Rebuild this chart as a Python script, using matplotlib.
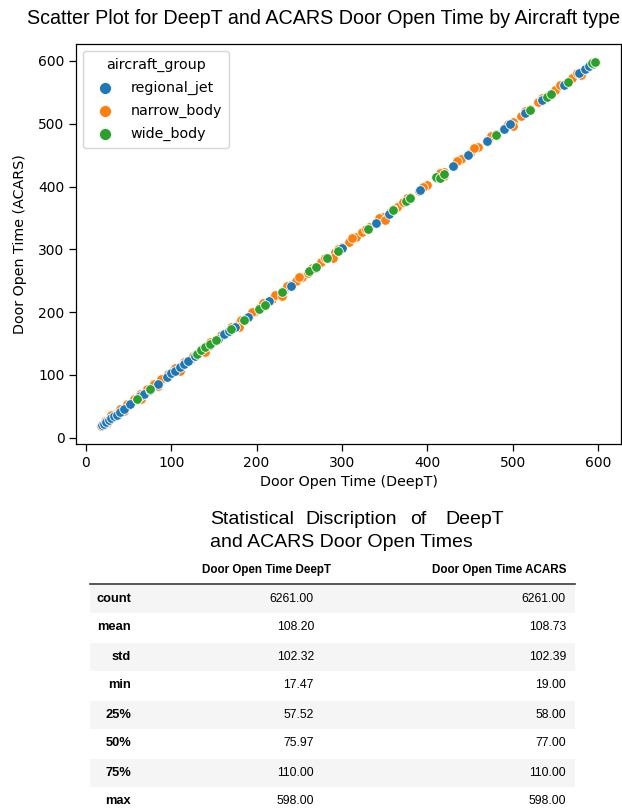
import matplotlib.pyplot as plt
from matplotlib.patches import Rectangle

plt.rcParams['font.family'] = ['DejaVu Sans']

# door open times (DeepT on x, ACARS on y)
regional_x = [18.5, 21, 24, 27, 30, 33, 36, 40, 45, 52, 60, 64, 68, 75, 85, 95, 100, 104, 110, 115,
              120, 128, 145, 155, 162, 168, 175, 190, 215, 240, 268, 300, 340, 355, 392, 430, 448, 470,
              490, 497, 515, 535, 560, 578, 585, 590, 594, 597]
regional_y = [20, 22, 25, 29, 31, 34, 37, 41, 46, 53, 61, 66, 69, 76, 86, 96, 103, 107, 112, 117,
              122, 130, 147, 157, 165, 170, 177, 192, 217, 242, 270, 302, 342, 357, 394, 432, 450, 472,
              492, 499, 517, 537, 562, 580, 587, 592, 595, 598]

narrow_x = [17.47, 20, 23, 26, 29, 32, 35, 38, 42, 46, 50, 54, 58, 62, 66, 70, 74, 78, 82, 86,
            90, 94, 98, 103, 108, 113, 118, 123, 128, 133, 138, 143, 149, 155, 161, 167, 173, 179, 185, 191,
            197, 204, 211, 218, 225, 232, 239, 246, 253, 260, 268, 276, 284, 292, 300, 308, 316, 324, 332, 340,
            348, 356, 364, 372, 380, 390, 400, 410, 420, 430, 440, 450, 460, 470, 480, 490, 500, 510, 520, 530,
            540, 550, 560, 570, 580, 588, 598,
            22, 30, 40, 48, 56, 64, 72, 80, 88, 96, 105, 115, 125, 135, 146, 158, 170, 182, 195, 208,
            222, 236, 250, 265, 280, 296, 312, 328, 344, 360, 376, 395, 415, 435, 455, 475, 495, 515, 535, 555,
            575, 593,
            25, 45, 65, 85, 110, 140, 180, 230, 290, 350, 420, 500, 580]
narrow_y = [19, 22, 26, 28, 32, 34, 38, 41, 44, 49, 52, 57, 60, 65, 68, 73, 77, 81, 84, 89,
            93, 97, 101, 106, 111, 116, 121, 126, 131, 136, 141, 146, 152, 158, 164, 170, 176, 183, 188, 194,
            200, 208, 214, 221, 228, 235, 243, 249, 256, 263, 271, 280, 287, 295, 304, 311, 319, 328, 336, 343,
            351, 359, 367, 375, 383, 393, 403, 413, 423, 433, 444, 453, 463, 473, 483, 493, 503, 513, 523, 534,
            544, 553, 563, 573, 583, 591, 598,
            27, 36, 46, 53, 62, 70, 77, 86, 94, 101, 111, 121, 130, 141, 152, 163, 176, 188, 200, 214,
            228, 241, 256, 270, 286, 301, 318, 333, 350, 365, 382, 400, 421, 440, 461, 480, 500, 521, 541, 561,
            580, 598,
            23, 42, 62, 82, 107, 137, 177, 226, 287, 347, 417, 497, 577]

wide_x = [60, 75, 130, 135, 140, 146, 152, 170, 185, 203, 210, 230, 262, 270, 283, 295, 330, 360, 375, 380,
          410, 415, 420, 480, 520, 540, 545, 565, 593, 596]
wide_y = [62, 77, 133, 140, 144, 150, 155, 173, 187, 205, 212, 232, 265, 272, 286, 297, 333, 362, 377, 382,
          415, 414, 420, 482, 522, 543, 547, 567, 596, 598]

# summary table
stat_names = ['count', 'mean', 'std', 'min', '25%', '50%', '75%', 'max']
deept_stats = [6261.00, 108.20, 102.32, 17.47, 57.52, 75.97, 110.00, 598.00]
acars_stats = [6261.00, 108.73, 102.39, 19.00, 58.00, 77.00, 110.00, 598.00]
table_cols = ['Door Open Time DeepT', 'Door Open Time ACARS']

W, H = 622, 811
fig = plt.figure(figsize=(W / 100, H / 100), dpi=100)

ax = fig.add_axes([76 / W, 1 - 444 / H, (621 - 76) / W, (444 - 44) / H])
kw = dict(s=48, edgecolors='white', linewidths=0.6)
ax.scatter(narrow_x, narrow_y, color='#ff7f0e', label='narrow_body', **kw)
ax.scatter(regional_x, regional_y, color='#1f77b4', label='regional_jet', **kw)
ax.scatter(wide_x, wide_y, color='#2ca02c', label='wide_body', **kw)
ax.tick_params(length=4.8, width=0.9, labelsize=10)
for sp in ax.spines.values():
    sp.set_linewidth(0.9)
ax.set_xlabel('Door Open Time (DeepT)', fontsize=10.3)
ax.set_ylabel('Door Open Time (ACARS)', fontsize=10.3, labelpad=8)
h, l = ax.get_legend_handles_labels()
order = [1, 0, 2]
ax.legend([h[i] for i in order], [l[i] for i in order], title='aircraft_group', loc='upper left',
          fontsize=10.3, title_fontsize=10.3, markerscale=1.25, labelspacing=0.6, borderpad=0.5)

fig.text(324 / W, 1 - 18 / H, 'Scatter Plot for DeepT and ACARS Door Open Time by Aircraft type',
         ha='center', va='center', fontsize=14.2, family='Liberation Sans')

# table title, first line justified word by word
for word, px in zip(['Statistical', 'Discription', 'of', 'DeepT'], [210, 305, 410, 445]):
    fig.text(px / W, 1 - 524 / H, word, ha='left', va='baseline', fontsize=14, family='Liberation Sans')
fig.text(210 / W, 1 - 547 / H, 'and ACARS Door Open Times', ha='left', va='baseline',
         fontsize=14, family='Liberation Sans')

tab = fig.add_axes([0, 0, 1, 1 - 556 / H])
tab.set_xlim(0, W)
tab.set_ylim(H, 556)
tab.axis('off')
row_h = 29
top = 584
for i, name in enumerate(stat_names):
    y0 = top + i * row_h
    if i % 2 == 0:
        tab.add_patch(Rectangle((90, y0 + 1), 485, row_h - 1, color='#f5f5f5', lw=0))
    yc = y0 + row_h / 2
    tab.text(131, yc, name, ha='right', va='center', fontsize=9.3, fontweight='bold', family='Liberation Sans')
    tab.text(314, yc, f'{deept_stats[i]:.2f}', ha='right', va='center', fontsize=8.8, family='Liberation Sans')
    tab.text(566, yc, f'{acars_stats[i]:.2f}', ha='right', va='center', fontsize=8.8, family='Liberation Sans')
tab.plot([90, 575], [584, 584], color='#3a3a3a', lw=1.2)
tab.text(331, 570, table_cols[0], ha='right', va='center', fontsize=8.4, fontweight='bold', family='Liberation Sans')
tab.text(566, 570, table_cols[1], ha='right', va='center', fontsize=8.4, fontweight='bold', family='Liberation Sans')

fig.savefig('out.png', dpi=100)
